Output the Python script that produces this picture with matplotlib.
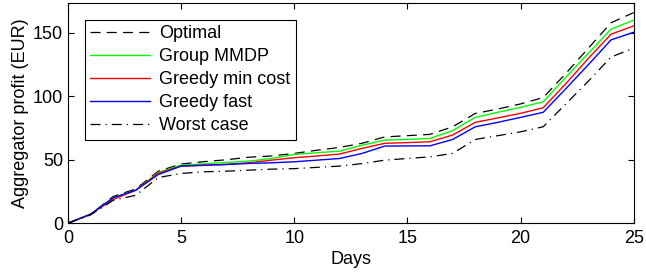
import matplotlib.pyplot as plt

plt.rcParams['font.family'] = ['Liberation Sans', 'DejaVu Sans']

days = list(range(26))
optimal = [0, 7, 21, 27, 41, 46.6, 48.5, 50, 52, 53, 55, 57.5, 59.7, 63, 68, 69, 70,
           76, 86.5, 90, 94, 99, 118, 138, 158, 166]
group_mmdp = [0, 7, 20, 26, 40, 45.8, 46.8, 47.9, 48.9, 51, 54.2, 55.5, 56.8, 61.5, 65.5,
              66, 66.8, 73, 83.4, 87.5, 91.3, 95.7, 115, 134, 153, 160]
greedy_min_cost = [0, 7, 18.7, 26, 39.5, 45, 45.8, 46.3, 47.6, 49.7, 51.6, 53, 54.5, 59,
                   63, 63.5, 64.2, 69.5, 79.5, 83, 86.6, 91, 110, 130, 149, 155.5]
greedy_fast = [0, 7, 20, 26, 38.4, 45, 45.6, 46.3, 47.1, 47.6, 48.4, 49.7, 51, 55, 60.8,
               60.9, 61, 66, 76, 79.5, 83.4, 87.4, 106, 125, 144.5, 150.5]
worst_case = [0, 6.5, 18, 22, 36, 39.2, 40.5, 41, 41.8, 42.6, 43, 44, 45, 47, 49.7, 51,
              52.3, 55, 66, 69, 72, 76, 94, 112, 131, 138]

fig = plt.figure(figsize=(6.46, 2.79), dpi=100)
ax = fig.add_axes([0.105, 0.2, 0.876, 0.789])

ax.plot(days, optimal, color='black', linestyle=(0, (8, 5)), lw=0.9, label='Optimal')
ax.plot(days, group_mmdp, color=(0, 1, 0), lw=1, label='Group MMDP')
ax.plot(days, greedy_min_cost, color='red', lw=1, label='Greedy min cost')
ax.plot(days, greedy_fast, color='blue', lw=1, label='Greedy fast')
ax.plot(days, worst_case, color='black', linestyle=(0, (8, 4, 1, 4)), lw=0.9, label='Worst case')

ax.set_xlim(0, 25)
ax.set_ylim(0, 173.5)
ax.set_xticks([0, 5, 10, 15, 20, 25])
ax.set_yticks([0, 50, 100, 150])
ax.tick_params(direction='in', top=True, right=True, labelsize=13, length=4)
ax.tick_params(axis='x', pad=5)
ax.set_xlabel('Days', fontsize=13, labelpad=3)
ax.set_ylabel('Aggregator profit (EUR)', fontsize=13, labelpad=3)

leg = ax.legend(loc='upper left', bbox_to_anchor=(0.03, 0.923), borderaxespad=0,
                fontsize=13, handlelength=3.3, fancybox=False, framealpha=1,
                edgecolor='black', labelspacing=0.33, borderpad=0.3, handletextpad=0.5)
leg.get_frame().set_linewidth(0.8)

fig.savefig('out.png', dpi=100)
